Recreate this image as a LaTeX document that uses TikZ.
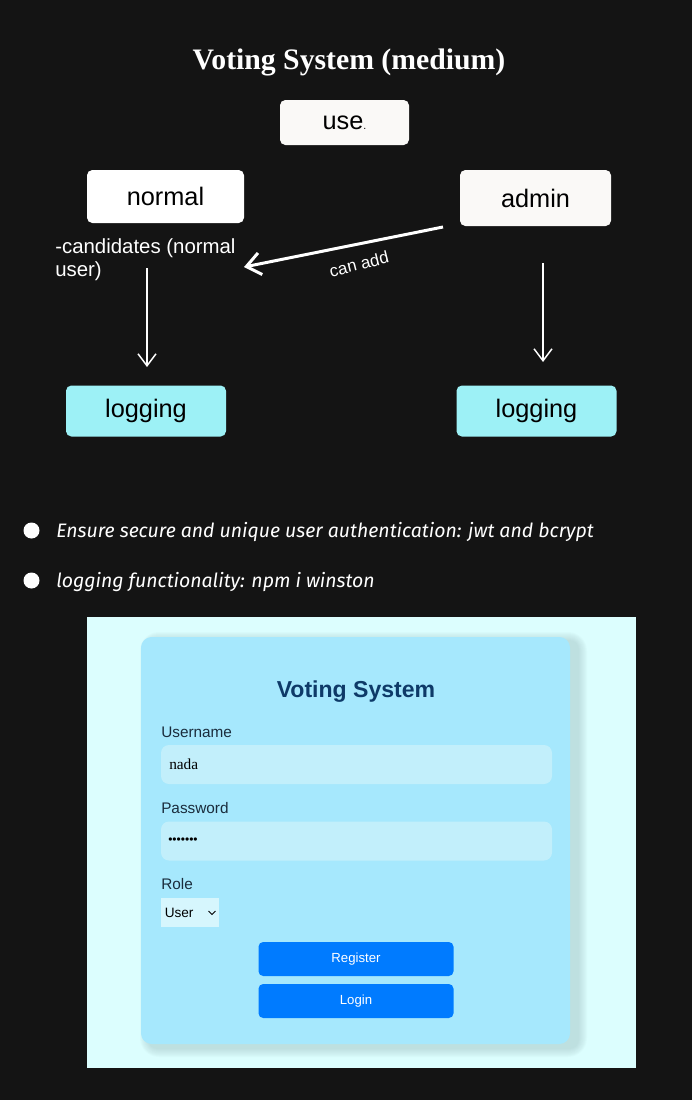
\documentclass[tikz,border=0pt]{standalone}
\usepackage{fontspec}
\setmainfont{Liberation Sans}
\newfontfamily\titlefont{Liberation Serif}
\newfontfamily\bulletfont{Fira Sans}
\usetikzlibrary{arrows.meta}
\definecolor{bg}{HTML}{141414}
\definecolor{offwhite}{HTML}{FAF9F7}
\definecolor{logcyan}{HTML}{9DF1F6}
\definecolor{screenbg}{HTML}{DCFEFE}
\definecolor{cardbg}{HTML}{A6E8FD}
\definecolor{inputbg}{HTML}{C2EFFB}
\definecolor{selectbg}{HTML}{D6F6FD}
\definecolor{btnblue}{HTML}{007BFF}
\definecolor{navy}{HTML}{0E3A68}
\definecolor{labeltext}{HTML}{1A2C3C}
\definecolor{shadowc}{HTML}{3A5A5C}
\tikzset{
  sz/.style 2 args={minimum width=#1*0.75pt, minimum height=#2*0.75pt},
  diabox/.style={rectangle, rounded corners=4pt, inner sep=0pt, text=black, font=\fontsize{19}{22}\selectfont},
  flowarrow/.style={draw=white, line width=1.1pt, -{Straight Barb[length=9pt,width=13.5pt]}},
  bigarrow/.style={draw=white, line width=2.25pt, -{Straight Barb[length=10.5pt,width=16.5pt]}},
  bullettext/.style={anchor=base west, inner sep=0pt, text=white, font=\bulletfont\itshape\fontsize{14.6}{16}\selectfont},
  bulletdot/.style={circle, fill=white, inner sep=0pt, minimum size=12pt},
  formlabel/.style={anchor=base west, inner sep=0pt, text=labeltext, font=\fontsize{11.5}{13}\selectfont},
  inputbox/.style={rectangle, fill=inputbg, rounded corners=6pt, inner sep=0pt, sz={391}{39}},
  button/.style={rectangle, fill=btnblue, rounded corners=3.5pt, inner sep=0pt, sz={195}{34}, text=white, font=\fontsize{9.9}{11}\selectfont}
}
\begin{document}
\begin{tikzpicture}[x=0.75pt,y=-0.75pt]
\path[fill=bg] (0,0) rectangle (692,1100);
\useasboundingbox (0,0) rectangle (692,1100);

% title
\node[anchor=base, inner sep=0pt, text=white, font=\titlefont\bfseries\fontsize{22.3}{26}\selectfont] (title) at (349,69) {Voting System (medium)};

% diagram boxes
\node[diabox, fill=offwhite, sz={129}{45}] (use) at (344.5,122.5) {use{\fontsize{8}{8}\selectfont.}};
\node[diabox, fill=white, sz={157}{53}] (normal) at (165.5,196.5) {normal};
\node[diabox, fill=offwhite, sz={151}{56}] (admin) at (535.5,198) {admin};
\node[diabox, fill=logcyan, sz={160}{51}] (logL) at (146,411) {logging};
\node[diabox, fill=logcyan, sz={160}{51}] (logR) at (536.5,411) {logging};

\node[anchor=base west, inner sep=0pt, align=left, text=white, font=\fontsize{15.3}{17.25}\selectfont] (cand) at (55,276) {-candidates (normal\\user)};

% arrows
\coordinate (dA) at (443,227);
\coordinate (dB) at (244,267);
\draw[bigarrow] (dA) -- (dB);
\node[inner sep=0pt, text=white, rotate=14, font=\fontsize{12.7}{14}\selectfont] (canadd) at (359,264) {can add};

\coordinate (lA) at (147,268);
\coordinate (lB) at (147,367);
\draw[flowarrow] (lA) -- (lB);
\coordinate (rA) at (543,263);
\coordinate (rB) at (543,362);
\draw[flowarrow] (rA) -- (rB);

% bullets
\node[bulletdot] (b1) at (31.5,530.5) {};
\node[bullettext] (t1) at (56,537) {Ensure secure and unique user authentication: jwt and bcrypt};
\node[bulletdot] (b2) at (31.5,580.5) {};
\node[bullettext] (t2) at (56,587) {logging functionality: npm i winston};

% screenshot
\node[rectangle, fill=screenbg, inner sep=0pt, sz={549}{451}] (screen) at (361.5,842.5) {};
% soft shadow of the card (to the right and below)
\foreach \i in {1,...,9}{
  \pgfmathsetmacro{\rr}{(8+\i*1.2)*0.75}
  \fill[shadowc, opacity=0.02, rounded corners=\rr pt]
    (141+8-1.0*\i, 637+4-1.0*\i) rectangle (570+8+1.0*\i, 1044+4+1.0*\i);
}
\node[rectangle, fill=cardbg, rounded corners=8pt, inner sep=0pt, sz={429}{407}] (card) at (355.5,840.5) {};

\node[anchor=base, inner sep=0pt, text=navy, font=\bfseries\fontsize{17.3}{20}\selectfont] (ftitle) at (356,697) {Voting System};
\node[formlabel] (ulabel) at (161,737) {Username};
\node[inputbox] (uinput) at (356.5,764.5) {};
\node[anchor=base west, inner sep=0pt, text=black, font=\titlefont\fontsize{11.5}{13}\selectfont] (uval) at (169,769) {nada};
\node[formlabel] (plabel) at (161,813) {Password};
\node[inputbox] (pinput) at (356.5,841) {};
\node[anchor=west, inner sep=0pt, text=black, font=\fontsize{9}{10}\selectfont] (pval) at (168,841) {•••••••};
\node[formlabel] (rlabel) at (161,889) {Role};
\node[rectangle, fill=selectbg, inner sep=0pt, sz={58}{29}] (rsel) at (190,912.5) {};
\node[anchor=base west, inner sep=0pt, text=black, font=\fontsize{10.2}{12}\selectfont] (rval) at (164.5,917) {User};
\draw[black, line width=0.6pt] (208.5,911) -- (212,914.5) -- (215.5,911);

\node[button] (reg) at (356,959) {Register};
\node[button] (login) at (356,1001) {Login};
\end{tikzpicture}
\end{document}
